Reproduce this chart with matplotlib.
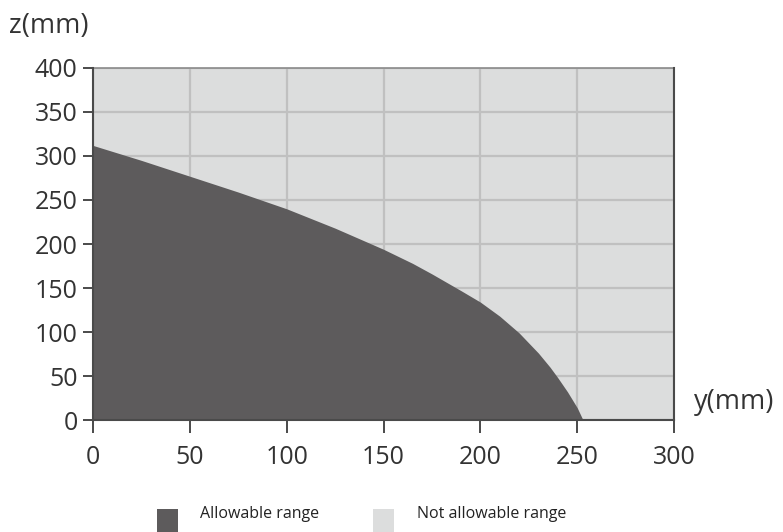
import matplotlib.pyplot as plt
from matplotlib.patches import Rectangle

# boundary of the allowable range
y_mm = [0, 25, 50, 75, 100, 125, 150, 165, 175, 190, 200, 210, 220, 230, 236, 240, 245, 250, 253]
z_mm = [312, 295, 277, 259, 240, 218, 194, 178, 166, 147, 134, 118, 99, 76, 60, 48, 32, 14, 0]

x_ticks = [0, 50, 100, 150, 200, 250, 300]
z_ticks = [0, 50, 100, 150, 200, 250, 300, 350, 400]

legend_labels = ["Allowable range", "Not allowable range"]

DARK = "#5d5b5c"
LIGHT = "#dcdddd"
GRID = "#c0c0c0"
SPINE = "#4a4a4a"

plt.rcParams["font.family"] = ["Open Sans", "DejaVu Sans"]

fig = plt.figure(figsize=(7.83, 5.32), dpi=100)
ax = fig.add_axes([0.1188, 0.2105, 0.742, 0.6617])
ax.set_facecolor(LIGHT)

ax.fill_between(y_mm, z_mm, 0, color=DARK, lw=0, zorder=3)

ax.set_xlim(0, 300)
ax.set_ylim(0, 400)
ax.set_xticks(x_ticks)
ax.set_yticks(z_ticks)
ax.grid(True, color=GRID, lw=1.6, zorder=1)
ax.set_axisbelow(True)

ax.tick_params(axis="x", direction="out", length=9, width=1.4, color=SPINE,
               labelsize=18, labelcolor="#333333", pad=9)
ax.tick_params(axis="y", direction="out", length=7, width=1.4, color=SPINE,
               labelsize=18, labelcolor="#333333", pad=4)

for side in ["left", "bottom", "right"]:
    ax.spines[side].set_color(SPINE)
    ax.spines[side].set_linewidth(1.5)
    ax.spines[side].set_zorder(5)
ax.spines["top"].set_color("#8a8a8a")
ax.spines["top"].set_linewidth(1.2)

fig.text(0.011, 0.952, "z(mm)", fontsize=19.5, color="#333333", va="center", ha="left")
fig.text(0.886, 0.245, "y(mm)", fontsize=19.5, color="#333333", va="center", ha="left")

# legend drawn as figure patches and texts
leg_colors = [DARK, LIGHT]
leg_box_x = [157 / 783, 373 / 783]
leg_text_x = [200 / 783, 417 / 783]
for label, c, bx, tx in zip(legend_labels, leg_colors, leg_box_x, leg_text_x):
    fig.patches.append(Rectangle((bx, 0.0), 21 / 783, 23 / 532, transform=fig.transFigure,
                                 facecolor=c, edgecolor="none"))
    fig.text(tx, 0.033, label, fontsize=11.5, color="#222222", va="center", ha="left")

fig.savefig("out.png", dpi=100)
